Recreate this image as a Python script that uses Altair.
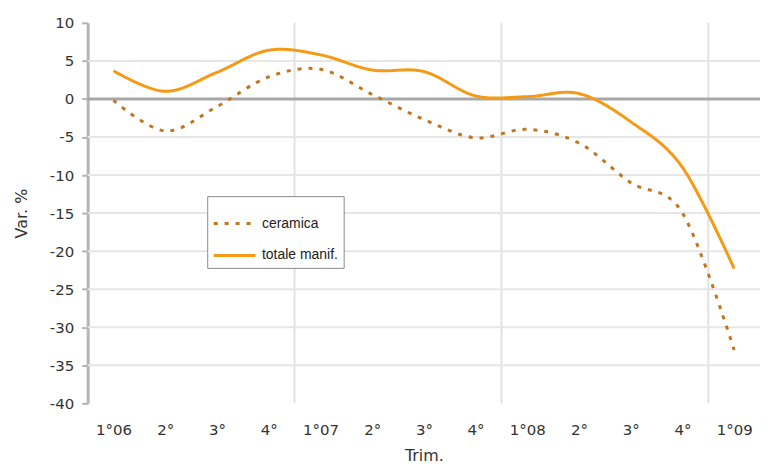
import altair as alt
import pandas as pd

quarters = ["1°06", "2°", "3°", "4°", "1°07", "2°", "3°", "4°", "1°08", "2°", "3°", "4°", "1°09"]
ceramica = [-0.2, -4.2, -1.0, 2.9, 3.9, 0.6, -2.7, -5.1, -4.0, -5.8, -11.0, -15.0, -33.0]
totale = [3.7, 1.0, 3.5, 6.4, 5.8, 3.8, 3.6, 0.4, 0.3, 0.7, -3.0, -9.0, -22.3]
series_names = ["ceramica", "totale manif."]
year_breaks = [3.5, 7.5, 11.5]
grid_levels = [-35, -30, -25, -20, -15, -10, -5, 5]
y_ticks = [-40, -35, -30, -25, -20, -15, -10, -5, 0, 5, 10]

rows = []
for i, q in enumerate(quarters):
    rows.append({"idx": i, "serie": series_names[0], "val": ceramica[i]})
    rows.append({"idx": i, "serie": series_names[1], "val": totale[i]})
df = pd.DataFrame(rows)

label_js = "[" + ",".join("'" + q + "'" for q in quarters) + "]"

xscale = alt.Scale(domain=[-0.5, 12.5], nice=False, zero=False)
yscale = alt.Scale(domain=[-40, 10], nice=False)

font = "DejaVu Sans"

x_axis = alt.Axis(values=list(range(13)), labelExpr=label_js + "[datum.value]",
                  domain=False, ticks=False, grid=False, labelPadding=19,
                  labelFontSize=15, labelFont=font, labelColor="#333333",
                  title="Trim.", titleFont=font, titleFontSize=16,
                  titleFontWeight="normal", titleColor="#333333", titlePadding=10)
y_axis = alt.Axis(values=y_ticks, labelExpr="'' + datum.value", grid=False,
                  domainColor="#b4b4b4", domainWidth=3, tickColor="#b4b4b4",
                  tickSize=6, tickWidth=2, labelPadding=8, labelFontSize=15,
                  labelFont=font, labelColor="#333333", title="Var. %",
                  titleFont=font, titleFontSize=16, titleFontWeight="normal",
                  titleColor="#333333", titlePadding=20)

vgrid = alt.Chart(pd.DataFrame({"x": year_breaks})).mark_rule(
    color="#e2e2e2", strokeWidth=2
).encode(x=alt.X("x:Q", scale=xscale, axis=x_axis))

hgrid = alt.Chart(pd.DataFrame({"y": grid_levels})).mark_rule(
    color="#e6e6e6", strokeWidth=2
).encode(y=alt.Y("y:Q", scale=yscale, axis=y_axis))

zero = alt.Chart(pd.DataFrame({"y": [0]})).mark_rule(
    color="#a8a8a8", strokeWidth=3
).encode(y=alt.Y("y:Q", scale=yscale, axis=y_axis))

lines = alt.Chart(df).mark_line(interpolate="cardinal", strokeWidth=3).encode(
    x=alt.X("idx:Q", scale=xscale, axis=x_axis),
    y=alt.Y("val:Q", scale=yscale, axis=y_axis),
    color=alt.Color("serie:N",
                    scale=alt.Scale(domain=series_names, range=["#c27420", "#f59a14"]),
                    legend=alt.Legend(title=None, orient="none", legendX=120, legendY=174,
                                      fillColor="white", strokeColor="#8a8a8a",
                                      padding=5, symbolType="stroke", symbolSize=1764,
                                      symbolStrokeWidth=3, labelFontSize=14,
                                      labelFont="Liberation Sans", labelColor="#222222",
                                      rowPadding=2, labelOffset=5)),
    strokeDash=alt.StrokeDash("serie:N",
                              scale=alt.Scale(domain=series_names, range=[[4, 7], [1, 0]]),
                              legend=None),
)

chart = alt.layer(vgrid, hgrid, zero, lines).properties(
    width=675, height=382,
    autosize=alt.AutoSizeParams(type="none"),
    padding={"left": 80, "top": 14, "right": 10, "bottom": 60},
).configure_view(stroke=None)

chart.save("out.html", embed_options={"renderer": "svg", "actions": False})
